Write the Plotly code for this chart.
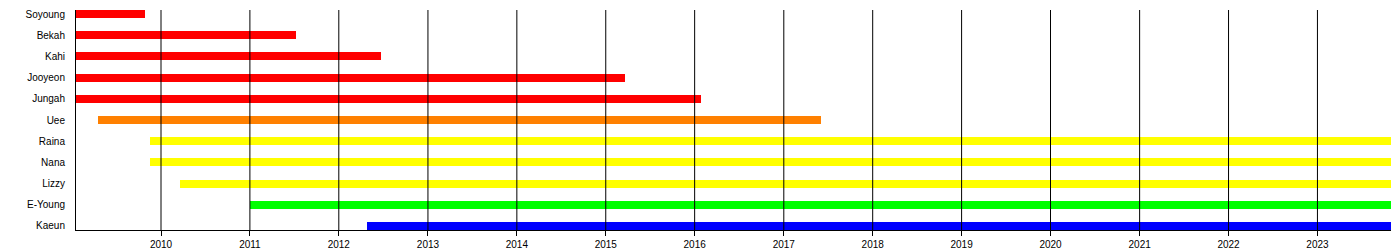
import pandas as pd
import plotly.graph_objects as go

members = ["Soyoung", "Bekah", "Kahi", "Jooyeon", "Jungah", "Uee",
           "Raina", "Nana", "Lizzy", "E-Young", "Kaeun"]
starts = ["2009-01-17", "2009-01-17", "2009-01-17", "2009-01-17", "2009-01-17",
          "2009-04-17", "2009-11-17", "2009-11-17", "2010-03-22", "2011-01-01",
          "2012-04-25"]
ends = ["2009-10-27", "2011-07-10", "2012-06-21", "2015-03-22", "2016-01-26",
        "2017-06-03", "2023-10-30", "2023-10-30", "2023-10-30", "2023-10-30",
        "2023-10-30"]
colors = ["#FF0000", "#FF0000", "#FF0000", "#FF0000", "#FF0000", "#FF8000",
          "#FFFF00", "#FFFF00", "#FFFF00", "#00FF00", "#0000FF"]
year_ticks = [str(y) for y in range(2010, 2024)]
timeline_start = "2009-01-17"
timeline_end = "2023-10-30"

s = pd.to_datetime(starts)
e = pd.to_datetime(ends)
durations = [(b - a).total_seconds() * 1000 for a, b in zip(s, e)]

fig = go.Figure()
fig.add_trace(go.Bar(
    y=members, x=durations, base=starts, orientation="h",
    marker=dict(color=colors, line=dict(width=0)),
    width=0.377, hoverinfo="skip", showlegend=False,
))

tickvals = [f"{y}-01-01" for y in year_ticks]
for tv in tickvals:
    fig.add_shape(type="line", xref="x", yref="paper", x0=tv, x1=tv, y0=0, y1=1,
                  line=dict(color="black", width=1), layer="above")

fig.update_layout(
    width=1400, height=250,
    margin=dict(l=76, r=9, t=10, b=20, autoexpand=False),
    plot_bgcolor="white", paper_bgcolor="white",
    font=dict(family="Liberation Sans, Arial, sans-serif", size=10, color="black"),
    bargap=0,
    xaxis=dict(
        type="date", range=[timeline_start, timeline_end],
        tickmode="array", tickvals=tickvals, ticktext=year_ticks,
        showgrid=False, zeroline=False, automargin=False,
        showline=True, linecolor="black", linewidth=1,
        ticks="outside", ticklen=5, tickcolor="black", tickwidth=1,
        tickfont=dict(size=10, color="black"),
    ),
    yaxis=dict(
        type="category", categoryorder="array", categoryarray=members[::-1],
        range=[-0.19, 10.19], automargin=False,
        showgrid=False, zeroline=False,
        showline=True, linecolor="black", linewidth=1,
        ticks="", ticklabelstandoff=8,
        tickfont=dict(size=10, color="black"),
    ),
)

fig.write_html("out.html")
